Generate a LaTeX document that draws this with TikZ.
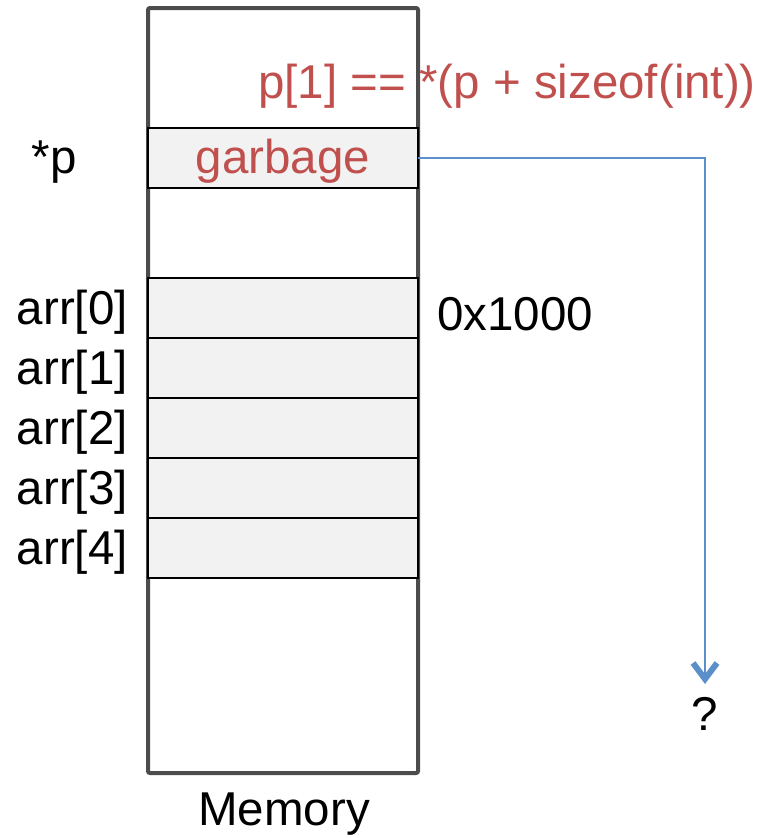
\documentclass[tikz,border=0pt]{standalone}
\usepackage{fontspec}
\setmainfont{Liberation Sans}
\usetikzlibrary{arrows.meta,positioning}
\definecolor{codered}{RGB}{192,80,77}
\definecolor{ptrblue}{RGB}{91,143,201}
\tikzset{
  cell/.style={draw=black,line width=2pt,fill=black!5,minimum width=270pt,minimum height=60pt,inner sep=0pt,outer sep=0pt},
  lbl/.style={inner sep=0pt,font=\fontsize{47.5}{54}\selectfont}
}

\begin{document}
\begin{tikzpicture}[x=1pt,y=-1pt]
  \useasboundingbox (0,0) rectangle (772,838);
  % memory column
  \node (mem) [draw=black!70,line width=4pt,rounded corners=2pt,minimum width=270pt,minimum height=765pt,inner sep=0pt] at (283,390.5){};
  \node (memlbl) [lbl] at (284,814) {Memory};
  % the pointer and what it holds
  \node (g) [cell,text=codered,font=\fontsize{47.5}{54}\selectfont] at (283,158) {};
  \node (gtxt) [lbl,text=codered] at (283,161) {garbage};
  \node (plbl) [lbl,anchor=east] at (77,162) {*p};
  \node (expr) [lbl,text=codered,anchor=west] at (258,86) {p[1] == *(p + sizeof(int))};
  % the array
  \foreach \i in {0,...,4}{
    \node (a\i) [cell] at (283,308+60*\i) {};
    \node (al\i) [lbl,anchor=east] at (128,312+60*\i) {arr[\i]};
  }
  \node (addr) [lbl,anchor=west] at (437,314) {0x1000};
  \node (q) [lbl] at (705,714) {?};
  \coordinate (turn) at (705,158);
  \coordinate (tip) at (705,684);
  \draw [ptrblue,line width=2pt,-{Straight Barb[length=16pt,width=24pt,line width=6pt]}] (g.east) -- (turn) -- (tip);
\end{tikzpicture}
\end{document}
